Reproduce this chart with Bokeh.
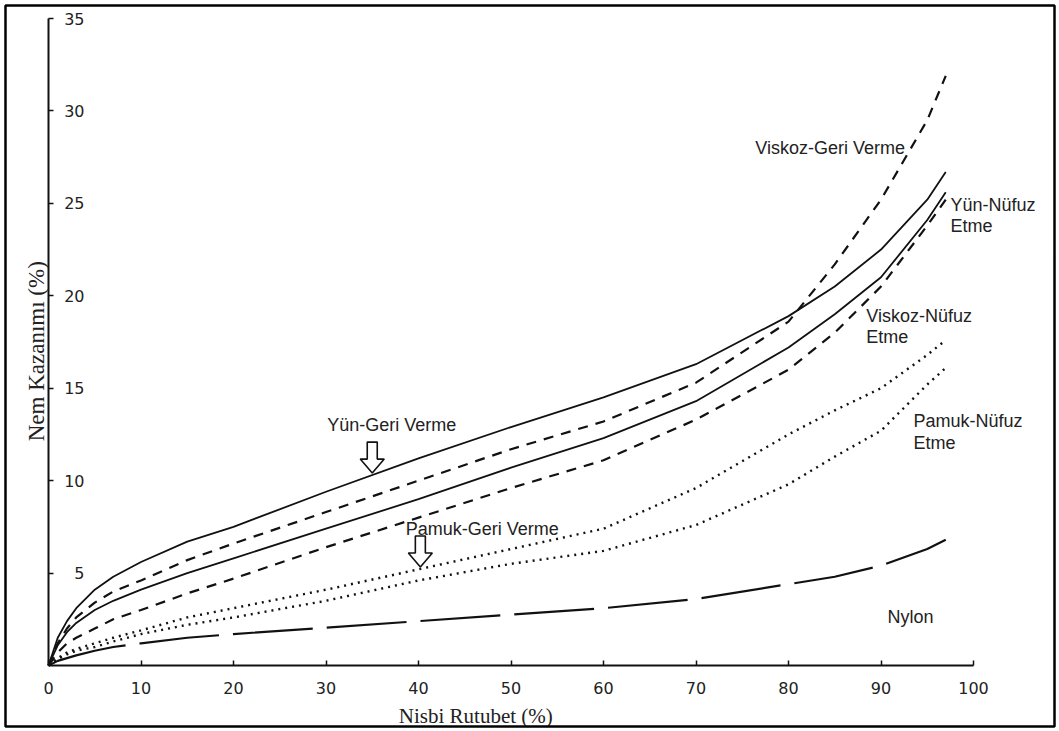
import numpy as np
from bokeh.plotting import figure
from bokeh.models import Range1d, Label, BoxAnnotation, FixedTicker, LinearAxis
from bokeh.embed import file_html
from bokeh.resources import INLINE

# ---------------- data ----------------
rh = [0, 1, 2, 3, 5, 7, 10, 15, 20, 30, 40, 50, 60, 70, 80, 85, 90, 95, 97]

yun_geri     = [0, 1.5, 2.4, 3.1, 4.1, 4.8, 5.6, 6.7, 7.5, 9.4, 11.2, 12.9, 14.5, 16.3, 18.9, 20.5, 22.5, 25.2, 26.7]
yun_nufuz    = [0, 1.1, 1.8, 2.3, 3.0, 3.5, 4.1, 5.0, 5.8, 7.4, 9.0, 10.7, 12.3, 14.3, 17.2, 19.0, 21.0, 24.1, 25.6]
viskoz_geri  = [0, 1.2, 2.0, 2.6, 3.4, 4.0, 4.6, 5.7, 6.6, 8.3, 10.0, 11.7, 13.2, 15.3, 18.6, 21.7, 25.2, 29.5, 31.9]
viskoz_nufuz = [0, 0.7, 1.2, 1.5, 2.0, 2.5, 3.0, 3.9, 4.7, 6.4, 8.0, 9.6, 11.1, 13.3, 16.0, 18.0, 20.5, 23.8, 25.2]
pamuk_geri   = [0, 0.4, 0.7, 0.9, 1.2, 1.5, 1.9, 2.6, 3.1, 4.1, 5.2, 6.3, 7.4, 9.6, 12.5, 13.8, 15.0, 16.8, 17.6]
pamuk_nufuz  = [0, 0.35, 0.6, 0.8, 1.0, 1.3, 1.7, 2.2, 2.6, 3.5, 4.6, 5.5, 6.2, 7.6, 9.8, 11.3, 12.7, 15.2, 16.1]
nylon        = [0, 0.25, 0.4, 0.55, 0.8, 1.0, 1.2, 1.5, 1.7, 2.05, 2.4, 2.75, 3.1, 3.6, 4.4, 4.8, 5.4, 6.3, 6.8]

x_ticks = [0, 10, 20, 30, 40, 50, 60, 70, 80, 90, 100]
y_ticks = [5, 10, 15, 20, 25, 30, 35]

x_title = "Nisbi Rutubet (%)"
y_title = "Nem Kazanımı (%)"

# ---------------- figure ----------------
W, H = 1059, 731
FL, FR, FT, FB = 48, 973, 18, 665   # where x 0..100 and y 0..35 sit, in px
px_x = 100 / (FR - FL)
px_y = 35 / (FB - FT)

p = figure(width=W, height=H,
           x_range=Range1d(-FL * px_x, (W - FL) * px_x),
           y_range=Range1d(-(H - FB) * px_y, FB * px_y),
           x_axis_location=None, y_axis_location=None,
           output_backend="svg", toolbar_location=None,
           min_border_left=0, min_border_right=0, min_border_top=0, min_border_bottom=0)
p.outline_line_color = None
p.xgrid.grid_line_color = None
p.ygrid.grid_line_color = None
p.background_fill_color = "white"
p.border_fill_color = "white"

xax = LinearAxis(fixed_location=0, bounds=(0, 100), ticker=FixedTicker(ticks=x_ticks))
yax = LinearAxis(fixed_location=0, bounds=(0, 35), ticker=FixedTicker(ticks=y_ticks))
for ax in (xax, yax):
    ax.axis_line_color = "#111"
    ax.axis_line_width = 2
    ax.major_tick_line_color = "#111"
    ax.major_tick_line_width = 1.5
    ax.major_tick_in = 5
    ax.major_tick_out = 0
    ax.minor_tick_line_color = None
    ax.major_label_text_font = "DejaVu Sans"
    ax.major_label_text_font_size = "16px"
    ax.major_label_text_color = "#222"
xax.major_label_standoff = 16
yax.major_label_standoff = -36
p.add_layout(xax, "below")
p.add_layout(yax, "left")

# ---------------- curves ----------------
black = "#111111"
p.line(rh, yun_geri, line_color=black, line_width=1.8)
p.line(rh, yun_nufuz, line_color=black, line_width=1.8)
p.line(rh, viskoz_geri, line_color=black, line_width=2.2, line_dash="10 8")
p.line(rh, viskoz_nufuz, line_color=black, line_width=2.2, line_dash="10 8")
p.line(rh, pamuk_geri, line_color=black, line_width=2.4, line_dash="2 5")
p.line(rh, pamuk_nufuz, line_color=black, line_width=2.4, line_dash="2 5")
p.line(rh, nylon, line_color=black, line_width=2.2, line_dash="80 14")

# ---------------- hollow arrows ----------------
def hollow_arrow(x, y_tip_data, gap_px=2):
    shape = [(0, 0), (-12, 14), (-5, 14), (-5, 31), (5, 31), (5, 14), (12, 14)]
    xs = [x + dx * px_x for dx, dy in shape]
    ys = [y_tip_data + (dy + gap_px) * px_y for dx, dy in shape]
    p.patch(xs, ys, fill_color="white", line_color=black, line_width=1.6)

hollow_arrow(35, float(np.interp(35, rh, yun_geri)))
hollow_arrow(40.2, float(np.interp(40.2, rh, pamuk_geri)))

# ---------------- text ----------------
def lab(x, y, t, align="left"):
    p.add_layout(Label(x=x, y=y, text=t, text_font="Liberation Sans", text_font_size="18px",
                       text_color="#222", text_align=align, text_baseline="middle"))

lab(84.5, 28.0, "Viskoz-Geri Verme", "center")
lab(97.5, 24.9, "Yün-Nüfuz")
lab(97.5, 23.75, "Etme")
lab(88.4, 18.9, "Viskoz-Nüfuz")
lab(88.4, 17.75, "Etme")
lab(93.5, 13.2, "Pamuk-Nüfuz")
lab(93.5, 12.05, "Etme")
lab(37.1, 13.0, "Yün-Geri Verme", "center")
lab(46.9, 7.4, "Pamuk-Geri Verme", "center")
lab(93.2, 2.6, "Nylon", "center")

p.add_layout(Label(x=0, y=17.0, x_offset=-12, text=y_title, angle=90, angle_units="deg",
                   text_font="Liberation Serif", text_font_size="23px", text_color="#222",
                   text_align="center", text_baseline="middle"))
p.add_layout(Label(x=46.2, y=0, y_offset=-50, text=x_title,
                   text_font="Liberation Serif", text_font_size="21px", text_color="#222",
                   text_align="center", text_baseline="middle"))

# outer frame of the picture (about 5 px inside the canvas edges)
p.add_layout(BoxAnnotation(left=(5 - FL) * px_x, right=(W - 5 - FL) * px_x,
                           bottom=-(H - 5 - FB) * px_y, top=(FB - 5) * px_y,
                           fill_alpha=0, line_color="black", line_alpha=1.0, line_width=2.5))

open("out.html", "w").write(file_html(p, INLINE))
